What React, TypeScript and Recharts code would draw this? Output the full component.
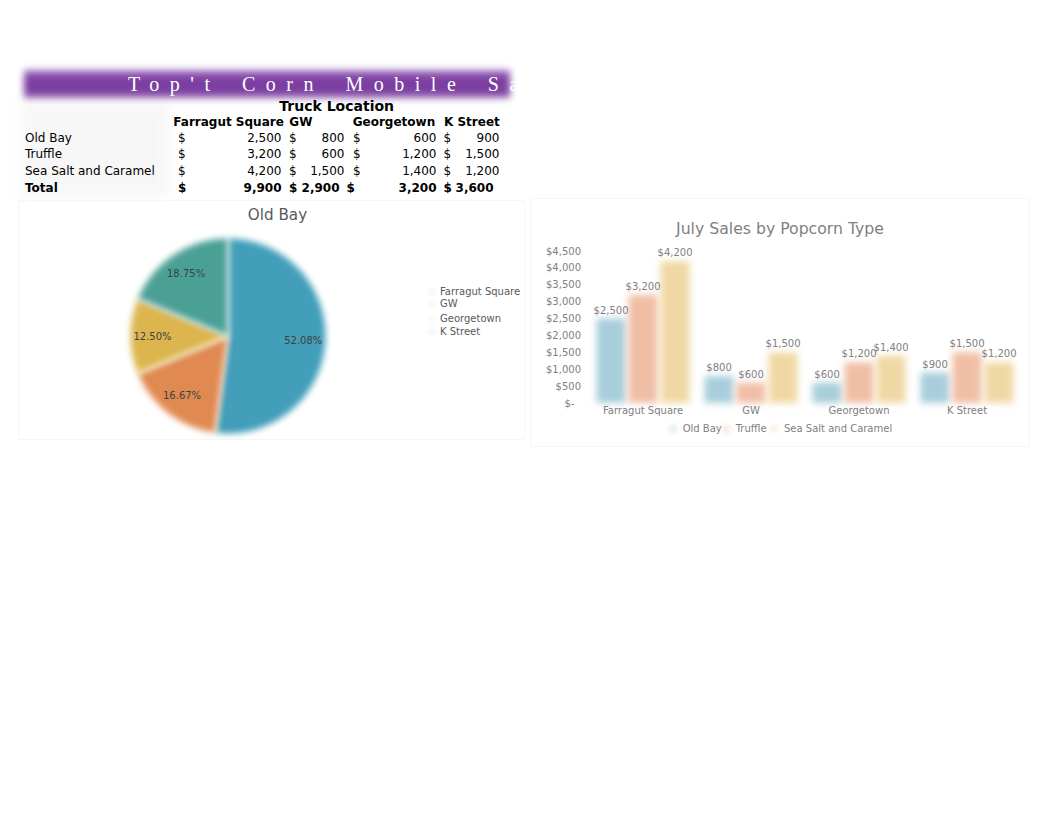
import React from 'react';
import { PieChart, Pie, Cell, BarChart, Bar, XAxis, YAxis, LabelList } from 'recharts';

// ---------- data ----------
const locations = ['Farragut Square', 'GW', 'Georgetown', 'K Street'];
const flavors = ['Old Bay', 'Truffle', 'Sea Salt and Caramel'];
const oldBay = [2500, 800, 600, 900];
const truffle = [3200, 600, 1200, 1500];
const seaSalt = [4200, 1500, 1400, 1200];
const totals = [9900, 2900, 3200, 3600];
const yTicks = [0, 500, 1000, 1500, 2000, 2500, 3000, 3500, 4000, 4500];

const bannerText = "Top't Corn Mobile Sa";
const tableHeading = 'Truck Location';
const pieTitle = 'Old Bay';
const barTitle = 'July Sales by Popcorn Type';

// ---------- styles ----------
const FONT = '"DejaVu Sans", Verdana, sans-serif';
const pieColors = ['#429eb9', '#e08a52', '#dcb54e', '#4ba096'];
const barColors = ['#a8cedb', '#f0bea5', '#f0d8a5'];

const fmtNum = (v: number) => v.toLocaleString('en-US');
const fmtMoney = (v: number) => (v === 0 ? '$-' : '$' + v.toLocaleString('en-US'));

const pieData = locations.map((name, i) => ({ name, value: oldBay[i] }));
const barData = locations.map((loc, i) => ({
  loc,
  oldBay: oldBay[i],
  truffle: truffle[i],
  seaSalt: seaSalt[i],
}));

const RAD = Math.PI / 180;
const renderPieLabel = (p: any) => {
  const r = p.outerRadius * 0.77;
  const x = p.cx + r * Math.cos(-p.midAngle * RAD);
  const y = p.cy + r * Math.sin(-p.midAngle * RAD);
  return (
    <text
      x={x}
      y={y}
      textAnchor="middle"
      dominantBaseline="central"
      fill="#404040"
      fontSize={10}
      fontFamily={FONT}
    >
      {(p.percent * 100).toFixed(2) + '%'}
    </text>
  );
};

const BlurBar = (p: any) => (
  <rect
    x={p.x}
    y={p.y}
    width={p.width}
    height={p.height}
    fill={p.fill}
    style={{ filter: 'blur(3.5px)' }}
  />
);

const YTick = (p: any) => {
  const v = p.payload.value;
  return (
    <text
      x={v === 0 ? p.x - 6.5 : p.x}
      y={p.y}
      dy="0.355em"
      textAnchor="end"
      fill="#808080"
      fontSize={10}
      fontFamily={FONT}
    >
      {fmtMoney(v)}
    </text>
  );
};

// ---------- table layout ----------
const rowY = [137.7, 154.3, 171, 187.7];
const dollarX = [178, 289, 353, 443.5];
const rightX = [281.5, 344.5, 436.5, 499.5];
const totalDollarX = [178, 289, 346.5, 443.5];
const totalRightX = [281.5, 339.5, 436.5, 493.5];
const headerX = [173.3, 289.3, 352.7, 444];

const abs = (left: number, cy: number, extra: React.CSSProperties = {}): React.CSSProperties => ({
  position: 'absolute',
  left,
  top: cy - 7,
  lineHeight: '14px',
  whiteSpace: 'nowrap',
  ...extra,
});

function Table() {
  const rows = [
    { label: flavors[0], values: oldBay, bold: false },
    { label: flavors[1], values: truffle, bold: false },
    { label: flavors[2], values: seaSalt, bold: false },
    { label: 'Total', values: totals, bold: true },
  ];
  return (
    <div style={{ fontFamily: FONT, fontSize: 12, color: '#000' }}>
      <div style={abs(279.3, 105.7, { fontWeight: 'bold', fontSize: 14, lineHeight: '14px' })}>{tableHeading}</div>
      {locations.map((l, i) => (
        <div key={l} style={abs(headerX[i], 122.3, { fontWeight: 'bold' })}>
          {l}
        </div>
      ))}
      {rows.map((r, ri) => {
        const dx = r.bold ? totalDollarX : dollarX;
        const rx = r.bold ? totalRightX : rightX;
        const fw = r.bold ? 'bold' : 'normal';
        return (
          <React.Fragment key={r.label}>
            <div style={abs(25, rowY[ri], { fontWeight: fw })}>{r.label}</div>
            {r.values.map((v, ci) => (
              <React.Fragment key={ci}>
                <div style={abs(dx[ci], rowY[ri], { fontWeight: fw })}>$</div>
                <div style={abs(rx[ci] - 80, rowY[ri], { width: 80, textAlign: 'right', fontWeight: fw })}>
                  {fmtNum(v)}
                </div>
              </React.Fragment>
            ))}
          </React.Fragment>
        );
      })}
    </div>
  );
}

export default function App() {
  return (
    <div style={{ position: 'absolute', left: 0, top: 0, width: 1062, height: 822, background: '#fff', overflow: 'hidden' }}>
      {/* faint cell shading */}
      <div style={{ position: 'absolute', left: 20, top: 100, width: 150, height: 98, background: '#f3f3f3', filter: 'blur(6px)', opacity: 0.6 }} />
      {/* banner */}
      <div
        style={{
          position: 'absolute',
          left: 24,
          top: 70,
          width: 486,
          height: 28,
          background: 'linear-gradient(to bottom, #a678c4 0%, #7c3fa2 30%, #7a3c9f 70%, #9264b3 100%)',
          filter: 'blur(3.5px)',
        }}
      />
      <div
        style={{
          position: 'absolute',
          left: 128,
          top: 72.5,
          fontFamily: '"Liberation Serif", "DejaVu Serif", serif',
          fontSize: 20,
          lineHeight: '22px',
          letterSpacing: '10.5px',
          wordSpacing: '6px',
          color: '#fff',
          whiteSpace: 'nowrap',
        }}
      >
        {bannerText}
      </div>

      <Table />

      {/* pie chart box */}
      <div style={{ position: 'absolute', left: 18, top: 200, width: 507, height: 240, border: '1px solid #f6f6f6', boxSizing: 'border-box' }} />
      <div style={{ position: 'absolute', left: 18, top: 206.5, width: 519, textAlign: 'center', fontFamily: FONT, fontSize: 15.2, lineHeight: '16px', color: '#595959' }}>
        {pieTitle}
      </div>
      <div style={{ position: 'absolute', left: 18, top: 200 }}>
        <PieChart width={507} height={240}>
          <Pie
            data={pieData}
            dataKey="value"
            nameKey="name"
            cx={205}
            cy={131}
            outerRadius={98}
            startAngle={90}
            endAngle={-270}
            stroke="#ffffff"
            strokeWidth={1}
            label={renderPieLabel}
            labelLine={false}
            isAnimationActive={false}
          >
            {pieData.map((d, i) => (
              <Cell key={d.name} fill={pieColors[i]} style={{ filter: 'blur(3.2px)' }} />
            ))}
          </Pie>
        </PieChart>
      </div>
      {/* pie legend */}
      {locations.map((l, i) => {
        const ys = [291.7, 304.3, 319.3, 332];
        return (
          <React.Fragment key={l}>
            <div style={{ position: 'absolute', left: 429, top: ys[i] - 3, width: 6, height: 6, background: pieColors[i], opacity: 0.1, filter: 'blur(2px)' }} />
            <div style={{ position: 'absolute', left: 440, top: ys[i] - 6, lineHeight: '12px', fontFamily: FONT, fontSize: 10, color: '#595959', whiteSpace: 'nowrap' }}>
              {l}
            </div>
          </React.Fragment>
        );
      })}

      {/* bar chart box */}
      <div style={{ position: 'absolute', left: 530, top: 198, width: 500, height: 249, border: '1px solid #f6f6f6', boxSizing: 'border-box' }} />
      <div style={{ position: 'absolute', left: 530, top: 219.5, width: 500, textAlign: 'center', fontFamily: FONT, fontSize: 15.7, lineHeight: '17px', color: '#7f7f7f' }}>
        {barTitle}
      </div>
      <div style={{ position: 'absolute', left: 530, top: 197 }}>
        <BarChart
          width={500}
          height={250}
          data={barData}
          margin={{ top: 54, right: 9, bottom: 24, left: 0 }}
          barCategoryGap="7%"
          barGap={3}
        >
          <XAxis
            dataKey="loc"
            axisLine={false}
            tickLine={false}
            tickSize={0}
            tickMargin={4}
            height={20}
            interval={0}
            tick={{ fill: '#808080', fontSize: 10, fontFamily: FONT }}
          />
          <YAxis
            width={59}
            domain={[0, 4500]}
            ticks={yTicks}
            interval={0}
            axisLine={false}
            tickLine={false}
            tick={<YTick />}
          />
          <Bar dataKey="oldBay" name={flavors[0]} fill={barColors[0]} shape={BlurBar} isAnimationActive={false}>
            <LabelList dataKey="oldBay" position="top" formatter={(v: any) => fmtMoney(Number(v))} fill="#808080" fontSize={10} fontFamily={FONT} />
          </Bar>
          <Bar dataKey="truffle" name={flavors[1]} fill={barColors[1]} shape={BlurBar} isAnimationActive={false}>
            <LabelList dataKey="truffle" position="top" formatter={(v: any) => fmtMoney(Number(v))} fill="#808080" fontSize={10} fontFamily={FONT} />
          </Bar>
          <Bar dataKey="seaSalt" name={flavors[2]} fill={barColors[2]} shape={BlurBar} isAnimationActive={false}>
            <LabelList dataKey="seaSalt" position="top" formatter={(v: any) => fmtMoney(Number(v))} fill="#808080" fontSize={10} fontFamily={FONT} />
          </Bar>
        </BarChart>
      </div>
      {/* bar legend */}
      {flavors.map((f, i) => {
        const xs = [682.7, 735.7, 784];
        return (
          <React.Fragment key={f}>
            <div style={{ position: 'absolute', left: xs[i] - 14, top: 425, width: 8, height: 8, background: barColors[i], opacity: 0.3, filter: 'blur(2px)' }} />
            <div style={{ position: 'absolute', left: xs[i], top: 423.3, lineHeight: '12px', fontFamily: FONT, fontSize: 10, color: '#808080', whiteSpace: 'nowrap' }}>
              {f}
            </div>
          </React.Fragment>
        );
      })}
    </div>
  );
}
